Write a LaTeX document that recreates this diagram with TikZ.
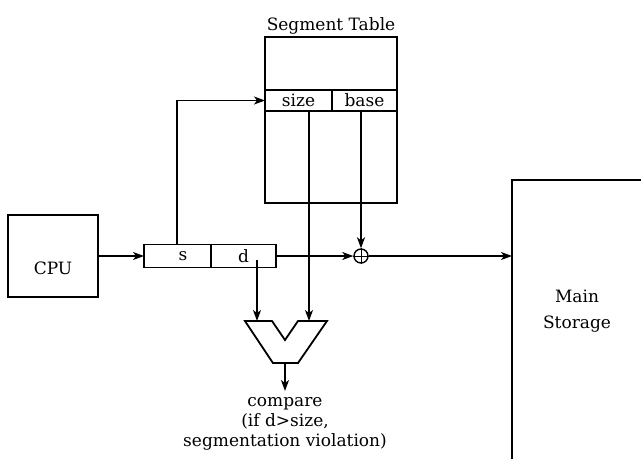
\documentclass[tikz,border=0pt]{standalone}
\usepackage{fontspec}
\setmainfont{DejaVu Serif}
\usetikzlibrary{positioning, arrows.meta}

\tikzset{
  blk/.style={draw, line width=1.8pt, inner sep=0pt, outer sep=0pt},
  cell/.style={draw, line width=1.3pt, inner sep=0pt, outer sep=0pt},
  flow/.style={-{Stealth[length=11pt, width=8pt, inset=3pt]}, line width=1.4pt},
  lbl/.style={font=\fontsize{17}{20}\selectfont, inner sep=1pt},
}

\begin{document}
\begin{tikzpicture}[x=1pt, y=-1pt]
        \useasboundingbox (0,0) rectangle (641,459);
        \node[blk, minimum width=90pt, minimum height=82pt] (cpu) at (53,256) {};
        \node[lbl] (cputxt) at ([yshift=-12pt]cpu.center) {CPU};
        \node[blk, lbl, minimum width=67pt, minimum height=23pt, anchor=west] (s) at (144,256) {\ \ s};
        \node[blk, lbl, minimum width=65pt, minimum height=23pt, right=0pt of s] (d) {d};
        \node[blk, minimum width=132pt, minimum height=166pt, anchor=north west] (segtab) at (265,37) {};
        \node[lbl, above=2pt of segtab] (segtxt) {Segment Table};
        \node[cell, lbl, minimum width=67pt, minimum height=21pt, anchor=north west] (size) at (265,90) {size};
        \node[cell, lbl, minimum width=65pt, minimum height=21pt, right=0pt of size] (base) {base};
        \node[draw, circle, line width=1.4pt, minimum size=14pt, inner sep=0pt] (add) at (361,256) {};
        \draw[line width=1pt] (add.north) -- (add.south) (add.west) -- (add.east);
        \coordinate (cmp) at (285,321);
        \coordinate (cmpL) at (257,321);
        \coordinate (cmpR) at (309,321);
        \coordinate (cmpout) at (285,363);
        \coordinate (cmptip) at (285,391);
        \draw[line width=1.8pt, line join=miter] (cmp) ++(-40,0) -- ++(27,0) -- ++(13,19) -- ++(13,-19)
            -- ++(29,0) -- ++(-29,42) -- ++(-25,0) -- cycle;
        \node[lbl, align=center] (cmptxt) at (285,424) {compare\\(if d>size,\\segmentation violation)};
        \coordinate (mem) at (512,256);
        \draw[line width=1.8pt] (512,459) -- (512,180) -- (641,180);
        \node[lbl, align=center] (memtxt) at (577,311) {Main\\[6pt]Storage};
        \draw[flow] (cpu.east |- s.west) -- (s.west);
        \draw[flow] (s.north -| 177,0) |- (size.west);
        \draw[flow] ([yshift=-4pt]cmpL |- d.center) -- (cmpL);
        \draw[flow] (cmpR |- size.south) -- (cmpR);
        \draw[flow] (add |- base.south) -- (add.north);
        \draw[flow] (d.east) -- (add.west);
        \draw[flow] (add.east) -- (mem);
        \draw[flow] (cmpout) -- (cmptip);
\end{tikzpicture}
\end{document}
